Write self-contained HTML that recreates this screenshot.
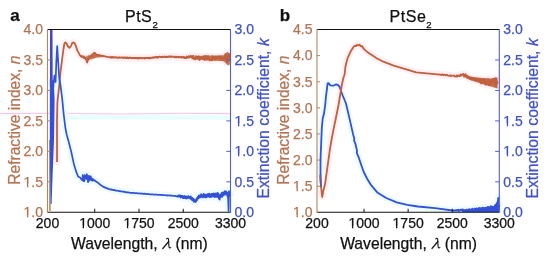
<!DOCTYPE html>
<html><head><meta charset="utf-8"><style>
html,body{margin:0;padding:0;background:#fff;width:550px;height:260px;overflow:hidden}
svg{display:block;filter:blur(0.3px);font-family:"Liberation Sans",sans-serif}
</style></head><body>
<svg width="550" height="260" viewBox="0 0 550 260" font-family="Liberation Sans, sans-serif">
<rect width="550" height="260" fill="#fff"/>
<path d="M0 113.6 L60 113.2 L120 114 L180 113.2 L230 113.6" stroke="#ffb4ea" stroke-width="1.1" fill="none" opacity="0.8"/>
<rect x="62" y="115.5" width="168" height="4" fill="#e6ffff"/>
<path d="M57.00 162.00 L57.00 120.00 L57.40 102.30 L59.30 85.00 L60.50 72.00 L62.00 60.00 L63.50 49.00 L64.30 44.00 L65.20 42.40 L66.50 43.50 L68.00 46.50 L69.50 47.80 L71.00 46.00 L72.20 43.00 L73.20 42.40 L74.20 42.80 L75.50 45.00 L77.30 50.40 L80.20 55.60 L83.70 57.30 L86.00 59.00 L87.10 62.50 L88.30 58.50 L90.00 57.30 L92.50 55.00 L94.60 52.70 L96.20 54.50 L98.00 55.00 L103.80 56.10 L109.60 57.30 L109.60 57.27 L110.00 57.21 L110.40 57.04 L110.80 57.63 L111.20 56.96 L111.60 57.37 L112.00 57.69 L112.40 57.05 L112.80 57.44 L113.20 57.51 L113.60 57.06 L114.00 57.34 L114.40 57.61 L114.80 57.43 L115.20 57.66 L115.60 57.21 L116.00 57.29 L116.40 57.20 L116.80 57.53 L117.20 57.88 L117.60 57.62 L118.00 57.78 L118.40 57.48 L118.80 57.79 L119.20 57.28 L119.60 57.45 L120.00 57.77 L120.40 57.82 L120.80 57.59 L121.20 57.34 L121.60 57.49 L122.00 57.46 L122.40 57.53 L122.80 57.96 L123.20 57.49 L123.60 58.05 L124.00 58.06 L124.40 57.41 L124.80 57.68 L125.20 57.78 L125.60 57.42 L126.00 57.76 L126.40 58.15 L126.80 57.53 L127.20 57.93 L127.60 57.56 L128.00 57.94 L128.40 58.21 L128.80 57.67 L129.20 57.52 L129.60 57.60 L130.00 57.97 L130.40 57.57 L130.80 57.64 L131.20 57.98 L131.60 58.33 L132.00 57.94 L132.40 57.94 L132.80 58.14 L133.20 57.72 L133.60 58.12 L134.00 57.81 L134.40 58.17 L134.80 58.46 L135.20 57.74 L135.60 58.14 L136.00 58.19 L136.40 57.82 L136.80 57.91 L137.20 58.50 L137.60 58.50 L138.00 57.80 L138.40 58.26 L138.80 58.46 L139.20 57.89 L139.60 58.19 L140.00 57.73 L140.40 57.99 L140.80 58.24 L141.20 58.17 L141.60 58.32 L142.00 57.77 L142.40 57.98 L142.80 58.39 L143.20 58.17 L143.60 58.06 L144.00 58.02 L144.40 58.49 L144.80 58.16 L145.20 57.71 L145.60 58.34 L146.00 57.96 L146.40 58.05 L146.80 57.87 L147.20 58.06 L147.60 57.96 L148.00 57.77 L148.40 58.20 L148.80 57.78 L149.20 58.33 L149.60 57.72 L150.00 58.32 L150.40 58.27 L150.80 57.95 L151.20 58.05 L151.60 57.61 L152.00 57.93 L152.40 57.61 L152.80 57.38 L153.20 57.91 L153.60 57.37 L154.00 57.27 L154.40 57.61 L154.80 57.13 L155.20 57.33 L155.60 56.90 L156.00 57.46 L156.40 56.95 L156.80 56.76 L157.20 57.53 L157.60 56.83 L158.00 57.48 L158.40 57.50 L158.80 57.16 L159.20 56.64 L159.60 56.67 L160.00 56.78 L160.40 56.92 L160.80 57.10 L161.20 57.40 L161.60 56.85 L162.00 56.65 L162.40 57.01 L162.80 56.62 L163.20 56.56 L163.60 56.96 L164.00 57.08 L164.40 56.50 L164.80 56.83 L165.20 57.04 L165.60 57.09 L166.00 56.73 L166.40 57.17 L166.80 56.50 L167.20 56.99 L167.60 57.03 L168.00 57.12 L168.40 56.75 L168.80 56.37 L169.20 56.31 L169.60 56.74 L170.00 56.40 L170.40 56.84 L170.80 56.34 L171.20 57.01 L171.60 56.50 L172.00 56.31 L172.40 56.48 L172.80 56.76 L173.20 56.88 L173.60 56.73 L174.00 56.54 L174.40 56.85 L174.80 57.31 L175.20 56.93 L175.60 57.34 L176.00 56.47 L176.40 57.42 L176.80 57.34 L177.20 57.01 L177.60 57.01 L178.00 57.04 L178.40 57.43 L178.80 56.63 L179.20 57.23 L179.60 57.16 L180.00 56.94 L180.40 57.41 L180.80 57.45 L181.20 56.75 L181.60 57.51 L182.00 57.22 L182.40 57.30 L182.80 57.55 L183.20 56.67 L183.60 57.57 L184.00 57.21 L184.40 58.14 L184.80 56.98 L185.20 58.11 L185.60 57.93 L186.00 57.70 L186.40 58.22 L186.80 56.36 L187.20 57.59 L187.60 57.61 L188.00 57.75 L188.40 57.06 L188.80 56.16 L189.20 56.42 L189.60 57.52 L190.00 56.31 L190.40 55.99 L190.80 56.84 L191.20 57.21 L191.60 57.44 L192.00 55.88 L192.40 58.27 L192.80 56.88 L193.20 58.39 L193.60 55.83 L194.00 59.08 L194.40 57.87 L194.80 59.28 L195.20 59.38 L195.60 58.88 L196.00 56.20 L196.40 57.13 L196.80 56.70 L197.20 58.88 L197.60 56.57 L198.00 56.70 L198.40 56.26 L198.80 56.31 L199.20 59.81 L199.60 60.03 L200.00 57.44 L200.40 59.07 L200.80 57.87 L201.20 58.11 L201.60 57.44 L202.00 58.63 L202.40 56.85 L202.80 56.95 L203.20 58.13 L203.60 56.68 L204.00 57.78 L204.40 60.08 L204.80 55.89 L205.20 56.26 L205.60 59.46 L206.00 56.05 L206.40 56.94 L206.80 59.72 L207.20 58.59 L207.60 56.81 L208.00 56.05 L208.40 57.07 L208.80 57.19 L209.20 59.54 L209.60 60.38 L210.00 59.50 L210.40 60.06 L210.80 60.20 L211.20 59.96 L211.60 60.18 L212.00 60.42 L212.40 56.22 L212.80 57.30 L213.20 56.96 L213.60 58.70 L214.00 58.16 L214.40 57.46 L214.80 59.86 L215.20 57.72 L215.60 56.79 L216.00 57.13 L216.40 58.05 L216.80 58.79 L217.20 58.59 L217.60 57.95 L218.00 56.69 L218.40 57.77 L218.80 57.39 L219.20 56.61 L219.60 58.50 L220.00 56.71 L220.40 59.37 L220.80 59.11 L221.20 56.45 L221.60 58.95 L222.00 57.48 L222.40 58.05 L222.80 58.88 L223.20 59.68 L223.60 60.33 L224.00 59.56 L224.40 56.57 L224.80 58.65 L225.20 57.03 L225.60 54.02 L226.00 58.90 L226.40 58.08 L226.80 62.20 L227.20 56.52 L227.60 62.00 L228.00 58.56 L228.40 53.93 L228.80 60.91 L229.20 55.95 L229.60 58.86 L230.00 53.34" stroke="#fff0f6" stroke-width="7" fill="none" stroke-linejoin="round" stroke-linecap="square"/>
<path d="M52.60 95.00 L54.40 75.50 L55.60 82.00 L56.30 62.00 L57.20 46.00 L58.20 62.00 L59.20 78.00 L60.60 86.00 L62.20 98.80 L63.70 114.40 L65.40 128.00 L66.80 135.00 L68.80 142.10 L71.40 152.50 L74.00 164.60 L76.30 171.90 L78.10 176.50 L80.40 177.70 L80.40 177.95 L80.80 178.40 L81.20 178.81 L81.60 179.71 L82.00 179.05 L82.40 180.34 L82.80 174.78 L83.20 177.69 L83.60 181.18 L84.00 179.10 L84.40 181.08 L84.80 175.11 L85.20 177.90 L85.60 176.15 L86.00 178.59 L86.40 178.90 L86.80 174.18 L87.20 175.92 L87.60 176.47 L88.00 182.22 L88.40 180.75 L88.80 175.91 L89.20 180.75 L89.60 176.27 L90.00 179.41 L90.40 176.74 L90.80 176.41 L91.20 180.50 L91.60 178.04 L92.00 178.37 L92.40 180.64 L92.80 180.36 L93.20 179.23 L93.60 180.53 L94.00 179.98 L94.40 180.32 L94.80 180.29 L95.20 180.94 L95.60 181.14 L96.00 181.56 L96.40 181.83 L96.80 181.90 L97.20 182.23 L97.60 182.45 L98.00 182.75 L98.40 183.02 L98.80 183.42 L99.20 183.87 L99.60 183.96 L100.00 184.55 L100.40 184.74 L100.80 185.06 L101.20 185.56 L101.60 185.68 L102.00 185.88 L102.40 186.20 L102.80 186.55 L103.20 186.52 L103.60 187.07 L104.00 186.88 L104.40 187.35 L104.80 187.58 L105.20 187.43 L105.60 187.93 L106.00 187.95 L106.40 188.16 L106.80 188.06 L107.20 188.20 L107.60 188.38 L108.00 188.82 L108.40 188.64 L108.80 188.99 L109.20 189.19 L109.60 189.32 L110.00 189.21 L110.40 189.34 L110.80 189.49 L111.20 189.67 L111.60 189.48 L112.00 189.82 L112.40 189.92 L112.80 190.02 L113.20 189.77 L113.60 190.22 L114.00 189.96 L114.40 190.14 L114.80 190.32 L115.20 190.53 L115.60 190.38 L116.00 190.69 L116.40 190.62 L116.80 190.60 L117.20 190.69 L117.60 190.71 L118.00 190.75 L118.40 190.86 L118.80 191.13 L119.20 191.32 L119.60 191.04 L120.00 191.05 L120.40 191.49 L120.80 191.37 L121.20 191.37 L121.60 191.36 L122.00 191.57 L122.40 191.72 L122.80 191.63 L123.20 191.67 L123.60 191.58 L124.00 191.99 L124.40 191.69 L124.80 191.94 L125.20 192.13 L125.60 191.91 L126.00 192.21 L126.40 192.35 L126.80 192.28 L127.20 192.40 L127.60 192.19 L128.00 192.38 L128.40 192.33 L128.80 192.66 L129.20 192.50 L129.60 192.62 L130.00 192.90 L130.40 192.87 L130.80 192.95 L131.20 192.77 L131.60 192.82 L132.00 192.94 L132.40 192.87 L132.80 192.83 L133.20 192.90 L133.60 192.83 L134.00 192.95 L134.40 193.23 L134.80 193.24 L135.20 193.14 L135.60 193.12 L136.00 193.09 L136.40 193.02 L136.80 193.12 L137.20 193.35 L137.60 193.42 L138.00 193.24 L138.40 193.44 L138.80 193.47 L139.20 193.47 L139.60 193.49 L140.00 193.55 L140.40 193.43 L140.80 193.59 L141.20 193.45 L141.60 193.56 L142.00 193.71 L142.40 193.71 L142.80 193.58 L143.20 193.87 L143.60 193.78 L144.00 193.78 L144.40 193.58 L144.80 193.83 L145.20 193.74 L145.60 193.94 L146.00 193.89 L146.40 194.06 L146.80 194.02 L147.20 194.11 L147.60 193.96 L148.00 194.11 L148.40 194.18 L148.80 194.24 L149.20 194.08 L149.60 194.31 L150.00 194.35 L150.40 194.30 L150.80 194.45 L151.20 194.47 L151.60 194.32 L152.00 194.35 L152.40 194.23 L152.80 194.53 L153.20 194.60 L153.60 194.44 L154.00 194.56 L154.40 194.60 L154.80 194.63 L155.20 194.43 L155.60 194.70 L156.00 194.65 L156.40 194.71 L156.80 194.64 L157.20 194.75 L157.60 194.84 L158.00 194.81 L158.40 194.88 L158.80 194.63 L159.20 194.71 L159.60 194.85 L160.00 194.96 L160.40 194.81 L160.80 195.03 L161.20 195.04 L161.60 194.83 L162.00 195.03 L162.40 194.96 L162.80 194.92 L163.20 194.98 L163.60 195.08 L164.00 195.05 L164.40 195.08 L164.80 195.05 L165.20 195.25 L165.60 195.24 L166.00 195.36 L166.40 195.38 L166.80 195.27 L167.20 195.56 L167.60 195.23 L168.00 195.42 L168.40 195.40 L168.80 195.48 L169.20 195.39 L169.60 195.70 L170.00 195.55 L170.40 195.44 L170.80 195.70 L171.20 195.52 L171.60 195.73 L172.00 195.67 L172.40 195.80 L172.80 195.98 L173.20 195.95 L173.60 195.82 L174.00 196.00 L174.40 195.96 L174.80 195.88 L175.20 195.82 L175.60 196.03 L176.00 196.04 L176.40 196.34 L176.80 196.49 L177.20 196.22 L177.60 195.93 L178.00 196.79 L178.40 195.27 L178.80 195.41 L179.20 196.42 L179.60 196.60 L180.00 195.35 L180.40 196.76 L180.80 197.54 L181.20 196.13 L181.60 196.33 L182.00 195.78 L182.40 196.01 L182.80 198.02 L183.20 196.35 L183.60 198.09 L184.00 198.00 L184.40 197.11 L184.80 196.16 L185.20 198.35 L185.60 196.95 L186.00 196.75 L186.40 196.50 L186.80 198.57 L187.20 197.12 L187.60 196.55 L188.00 197.18 L188.40 196.13 L188.80 197.73 L189.20 197.22 L189.60 196.80 L190.00 198.39 L190.40 198.75 L190.80 196.40 L191.20 198.26 L191.60 197.66 L192.00 200.00 L192.40 199.84 L192.80 198.44 L193.20 198.83 L193.60 198.79 L194.00 201.85 L194.40 199.90 L194.80 201.26 L195.20 201.15 L195.60 201.60 L196.00 200.89 L196.40 200.79 L196.80 198.11 L197.20 199.71 L197.60 197.57 L198.00 197.78 L198.40 196.52 L198.80 195.79 L199.20 196.24 L199.60 195.90 L200.00 195.42 L200.40 196.73 L200.80 196.16 L201.20 194.18 L201.60 194.91 L202.00 195.60 L202.40 197.22 L202.80 197.09 L203.20 195.84 L203.60 193.90 L204.00 196.63 L204.40 195.33 L204.80 195.84 L205.20 196.30 L205.60 195.99 L206.00 195.41 L206.40 196.98 L206.80 195.00 L207.20 194.99 L207.60 196.69 L208.00 194.20 L208.40 194.54 L208.80 196.53 L209.20 193.61 L209.60 196.51 L210.00 195.95 L210.40 194.93 L210.80 194.36 L211.20 196.26 L211.60 196.76 L212.00 193.76 L212.40 195.06 L212.80 195.33 L213.20 195.12 L213.60 194.45 L214.00 193.73 L214.40 195.44 L214.80 196.33 L215.20 193.34 L215.60 193.96 L216.00 196.40 L216.40 196.29 L216.80 195.75 L217.20 192.94 L217.60 196.02 L218.00 197.19 L218.40 197.30 L218.80 197.63 L219.20 196.79 L219.60 199.65 L220.00 194.62 L220.40 195.68 L220.80 197.13 L221.20 195.83 L221.60 192.74 L222.00 193.45 L222.40 196.67 L222.80 192.44 L223.20 194.84 L223.60 193.66 L224.00 192.12 L224.40 194.63 L224.80 191.19 L225.20 191.43 L225.60 192.91 L226.00 191.41 L226.40 191.84 L227.60 193.00 L228.20 200.00 L228.60 211.00 L229.00 191.00 L229.60 196.00 L230.30 195.00" stroke="#ecfcff" stroke-width="7" fill="none" stroke-linejoin="round" stroke-linecap="square"/>
<path d="M180.00 197.08 L180.40 196.36 L180.80 196.25 L181.20 197.26 L181.60 196.10 L182.00 196.76 L182.40 196.94 L182.80 197.08 L183.20 196.27 L183.60 197.20 L184.00 197.00 L184.40 197.71 L184.80 196.17 L185.20 198.02 L185.60 196.51 L186.00 197.83 L186.40 197.25 L186.80 197.98 L187.20 196.65 L187.60 196.98 L188.00 196.51 L188.40 198.05 L188.80 197.56 L189.20 196.86 L189.60 196.86 L190.00 196.64 L190.40 197.14 L190.80 198.22 L191.20 198.17 L191.60 199.05 L192.00 197.77 L192.40 199.97 L192.80 200.66 L193.20 200.39 L193.60 200.74 L194.00 201.35 L194.40 199.72 L194.80 201.00 L195.20 200.31 L195.60 202.07 L196.00 200.85 L196.40 199.09 L196.80 199.45 L197.20 199.80 L197.60 198.60 L198.00 196.78 L198.40 198.54 L198.80 195.40 L199.20 197.37 L199.60 197.69 L200.00 196.95 L200.40 197.53 L200.80 196.25 L201.20 195.26 L201.60 196.02 L202.00 196.83 L202.40 196.91 L202.80 195.66 L203.20 197.45 L203.60 194.47 L204.00 195.95 L204.40 194.41 L204.80 195.44 L205.20 197.54 L205.60 194.56 L206.00 197.51 L206.40 197.22 L206.80 196.45 L207.20 194.20 L207.60 195.64 L208.00 196.41 L208.40 194.23 L208.80 194.94 L209.20 194.15 L209.60 196.89 L210.00 197.15 L210.40 197.18 L210.80 196.53 L211.20 195.86 L211.60 193.88 L212.00 195.48 L212.40 196.56 L212.80 196.54 L213.20 193.65 L213.60 193.55 L214.00 193.85 L214.40 197.21 L214.80 193.91 L215.20 195.03 L215.60 195.37 L216.00 197.06 L216.40 193.92 L216.80 194.43 L217.20 196.59 L217.60 193.65 L218.00 193.96 L218.40 193.34 L218.80 198.75 L219.20 197.38 L219.60 197.81 L220.00 195.66 L220.40 197.52 L220.80 196.23 L221.20 195.64 L221.60 195.05 L222.00 193.94 L222.40 196.49 L222.80 192.98 L223.20 195.32 L223.60 193.69 L224.00 193.51 L224.40 194.26 L224.80 192.90 L225.20 194.75 L225.60 192.13 L226.00 191.90 L226.40 192.55 L226.80 192.35 L227.20 196.33" stroke="#ecfcff" stroke-width="7" fill="none" stroke-linejoin="round" stroke-linecap="square"/>
<path d="M321.00 187.00 L320.50 178.00 L320.50 165.00 L320.60 157.00 L321.20 143.00 L321.80 128.00 L322.70 118.40 L324.00 113.60 L325.20 105.00 L326.00 96.30 L327.00 88.60 L327.60 83.40 L328.50 83.20 L330.40 85.30 L333.30 85.70 L336.20 84.30 L338.10 85.10 L339.50 86.50 L341.00 91.00 L342.70 95.50 L346.00 103.50 L349.60 118.90 L353.00 133.90 L354.30 138.60 L354.10 140.60 L355.40 143.80 L357.00 150.80 L356.80 152.80 L358.80 157.70 L363.50 171.50 L367.00 178.50 L371.30 185.40 L377.70 192.80 L386.20 198.00 L396.70 202.30 L407.30 204.80 L417.90 206.50 L435.00 208.20 L452.50 210.50 L452.50 210.47 L452.90 210.53 L453.30 210.76 L453.70 210.44 L454.10 210.46 L454.50 210.51 L454.90 210.17 L455.30 210.43 L455.70 210.53 L456.10 210.67 L456.50 209.99 L456.90 210.17 L457.30 209.93 L457.70 210.69 L458.10 210.56 L458.50 209.79 L458.90 210.90 L459.30 210.89 L459.70 210.49 L460.10 210.44 L460.50 209.80 L460.90 209.58 L461.30 210.29 L461.70 209.58 L462.10 209.75 L462.50 209.81 L462.90 209.45 L463.30 210.13 L463.70 210.08 L464.10 210.76 L464.50 210.19 L464.90 210.40 L465.30 210.13 L465.70 210.42 L466.10 210.03 L466.50 209.68 L466.90 211.05 L467.30 211.05 L467.70 210.74 L468.10 210.47 L468.50 209.67 L468.90 209.47 L469.30 209.58 L469.70 209.10 L470.10 210.56 L470.50 209.74 L470.90 210.69 L471.30 209.64 L471.70 210.89 L472.10 210.62 L472.50 208.64 L472.90 209.08 L473.30 210.70 L473.70 209.62 L474.10 210.82 L474.50 209.37 L474.90 208.53 L475.30 209.88 L475.70 210.23 L476.10 208.90 L476.50 208.39 L476.90 208.99 L477.30 210.62 L477.70 210.05 L478.10 208.29 L478.50 208.60 L478.90 208.16 L479.30 208.00 L479.70 210.03 L480.10 208.24 L480.50 209.29 L480.90 208.94 L481.30 208.15 L481.70 209.71 L482.10 207.89 L482.50 209.37 L482.90 207.73 L483.30 208.60 L483.70 207.90 L484.10 208.02 L484.50 210.17 L484.90 209.60 L485.30 207.96 L485.70 209.78 L486.10 207.55 L486.50 208.09 L486.90 209.56 L487.30 208.81 L487.70 206.94 L488.10 209.90 L488.50 207.21 L488.90 207.31 L489.30 209.03 L489.70 207.44 L490.10 207.25 L490.50 206.34 L490.90 206.26 L491.30 207.91 L491.70 206.56 L492.10 207.74 L492.50 206.78 L492.90 206.96 L493.30 208.74 L493.70 206.84 L494.10 207.06 L494.50 208.06 L494.90 205.32 L495.30 205.08 L495.70 207.90 L496.10 206.82 L496.50 203.84 L496.90 202.86 L497.30 204.32 L498.30 198.00 L498.80 211.00 L499.30 205.00" stroke="#ecfcff" stroke-width="7" fill="none" stroke-linejoin="round" stroke-linecap="square"/>
<path d="M320.30 175.00 L320.70 182.00 L321.30 189.00 L321.80 194.00 L322.20 197.00 L323.20 191.40 L324.20 187.50 L325.20 183.00 L326.30 175.40 L327.60 166.00 L329.00 156.00 L329.80 150.00 L331.50 140.00 L333.50 129.50 L336.00 117.50 L338.50 105.00 L340.50 93.00 L342.00 84.00 L343.50 77.50 L344.60 74.50 L345.40 67.00 L346.50 62.00 L347.70 58.00 L350.80 51.20 L353.80 46.50 L355.00 45.80 L356.00 46.30 L357.00 44.80 L358.50 45.50 L359.50 44.60 L361.00 46.50 L362.00 46.00 L363.50 48.50 L365.40 50.40 L369.00 53.20 L373.00 55.80 L377.00 58.50 L381.50 60.80 L393.00 65.40 L404.60 68.90 L416.20 72.30 L440.00 74.60 L440.00 74.41 L440.40 74.79 L440.80 74.82 L441.20 75.00 L441.60 74.48 L442.00 74.55 L442.40 74.51 L442.80 74.61 L443.20 75.09 L443.60 74.59 L444.00 74.98 L444.40 74.73 L444.80 74.84 L445.20 75.00 L445.60 75.42 L446.00 75.24 L446.40 74.70 L446.80 74.98 L447.20 74.89 L447.60 75.65 L448.00 75.62 L448.40 75.66 L448.80 75.72 L449.20 75.67 L449.60 75.93 L450.00 75.80 L450.40 75.26 L450.80 75.94 L451.20 75.58 L451.60 75.91 L452.00 75.74 L452.40 75.62 L452.80 75.58 L453.20 75.69 L453.60 75.59 L454.00 75.40 L454.40 76.26 L454.80 76.27 L455.20 76.57 L455.60 76.26 L456.00 76.11 L456.40 76.48 L456.80 75.43 L457.20 76.47 L457.60 76.05 L458.00 75.48 L458.40 75.42 L458.80 76.11 L459.20 75.33 L459.60 75.80 L460.00 76.14 L460.40 75.45 L460.80 74.51 L461.20 75.59 L461.60 74.63 L462.00 74.52 L462.40 74.32 L462.80 74.87 L463.20 73.82 L463.60 75.68 L464.00 76.56 L464.40 74.69 L464.80 75.78 L465.20 76.61 L465.60 74.24 L466.00 74.77 L466.40 76.83 L466.80 77.11 L467.20 76.80 L467.60 75.82 L468.00 76.68 L468.40 77.97 L468.80 78.20 L469.20 78.21 L469.60 77.16 L470.00 78.71 L470.40 77.87 L470.80 78.72 L471.20 77.57 L471.60 79.60 L472.00 78.88 L472.40 79.32 L472.80 78.15 L473.20 79.33 L473.60 79.37 L474.00 79.53 L474.40 78.99 L474.80 80.20 L475.20 79.17 L475.60 79.14 L476.00 78.84 L476.40 80.64 L476.80 78.86 L477.20 79.35 L477.60 78.90 L478.00 81.06 L478.40 80.88 L478.80 80.96 L479.20 79.16 L479.60 80.82 L480.00 80.55 L480.40 79.62 L480.80 79.31 L481.20 83.72 L481.60 79.84 L482.00 80.68 L482.40 80.54 L482.80 82.19 L483.20 79.58 L483.60 81.63 L484.00 81.11 L484.40 83.74 L484.80 79.11 L485.20 81.00 L485.60 81.99 L486.00 84.93 L486.40 82.20 L486.80 81.98 L487.20 83.30 L487.60 80.87 L488.00 79.08 L488.40 82.33 L488.80 85.28 L489.20 84.14 L489.60 80.67 L490.00 83.89 L490.40 85.20 L490.80 80.67 L491.20 83.28 L491.60 81.44 L492.00 80.53 L492.40 80.88 L492.80 80.16 L493.20 81.42 L493.60 78.68 L494.00 81.85 L494.40 79.04 L494.80 85.20 L495.20 83.78 L495.60 78.16 L496.00 85.54 L496.40 79.90 L496.80 82.76 L497.20 83.53 L497.60 81.33" stroke="#fff0f6" stroke-width="7" fill="none" stroke-linejoin="round" stroke-linecap="square"/>
<path d="M320.5 174 L320.9 187" stroke="#ecfcff" stroke-width="7" fill="none" stroke-linejoin="round" stroke-linecap="square"/>
<path d="M49.9 140 L49.9 211" stroke="#a88a50" stroke-width="1.5" fill="none"/>
<path d="M196 56 L205 55.6 L215 55.6 L223.5 55.3 L225.5 53 L228 52 L229.8 54 L229.8 64.5 L228 65.6 L225.5 63 L223.5 61.2 L215 60.8 L205 60.2 L196 59 Z" fill="#c0603c" opacity="0.85"/>
<path d="M57.00 162.00 L57.00 120.00 L57.40 102.30 L59.30 85.00 L60.50 72.00 L62.00 60.00 L63.50 49.00 L64.30 44.00 L65.20 42.40 L66.50 43.50 L68.00 46.50 L69.50 47.80 L71.00 46.00 L72.20 43.00 L73.20 42.40 L74.20 42.80 L75.50 45.00 L77.30 50.40 L80.20 55.60 L83.70 57.30 L86.00 59.00 L87.10 62.50 L88.30 58.50 L90.00 57.30 L92.50 55.00 L94.60 52.70 L96.20 54.50 L98.00 55.00 L103.80 56.10 L109.60 57.30 L109.60 57.27 L110.00 57.21 L110.40 57.04 L110.80 57.63 L111.20 56.96 L111.60 57.37 L112.00 57.69 L112.40 57.05 L112.80 57.44 L113.20 57.51 L113.60 57.06 L114.00 57.34 L114.40 57.61 L114.80 57.43 L115.20 57.66 L115.60 57.21 L116.00 57.29 L116.40 57.20 L116.80 57.53 L117.20 57.88 L117.60 57.62 L118.00 57.78 L118.40 57.48 L118.80 57.79 L119.20 57.28 L119.60 57.45 L120.00 57.77 L120.40 57.82 L120.80 57.59 L121.20 57.34 L121.60 57.49 L122.00 57.46 L122.40 57.53 L122.80 57.96 L123.20 57.49 L123.60 58.05 L124.00 58.06 L124.40 57.41 L124.80 57.68 L125.20 57.78 L125.60 57.42 L126.00 57.76 L126.40 58.15 L126.80 57.53 L127.20 57.93 L127.60 57.56 L128.00 57.94 L128.40 58.21 L128.80 57.67 L129.20 57.52 L129.60 57.60 L130.00 57.97 L130.40 57.57 L130.80 57.64 L131.20 57.98 L131.60 58.33 L132.00 57.94 L132.40 57.94 L132.80 58.14 L133.20 57.72 L133.60 58.12 L134.00 57.81 L134.40 58.17 L134.80 58.46 L135.20 57.74 L135.60 58.14 L136.00 58.19 L136.40 57.82 L136.80 57.91 L137.20 58.50 L137.60 58.50 L138.00 57.80 L138.40 58.26 L138.80 58.46 L139.20 57.89 L139.60 58.19 L140.00 57.73 L140.40 57.99 L140.80 58.24 L141.20 58.17 L141.60 58.32 L142.00 57.77 L142.40 57.98 L142.80 58.39 L143.20 58.17 L143.60 58.06 L144.00 58.02 L144.40 58.49 L144.80 58.16 L145.20 57.71 L145.60 58.34 L146.00 57.96 L146.40 58.05 L146.80 57.87 L147.20 58.06 L147.60 57.96 L148.00 57.77 L148.40 58.20 L148.80 57.78 L149.20 58.33 L149.60 57.72 L150.00 58.32 L150.40 58.27 L150.80 57.95 L151.20 58.05 L151.60 57.61 L152.00 57.93 L152.40 57.61 L152.80 57.38 L153.20 57.91 L153.60 57.37 L154.00 57.27 L154.40 57.61 L154.80 57.13 L155.20 57.33 L155.60 56.90 L156.00 57.46 L156.40 56.95 L156.80 56.76 L157.20 57.53 L157.60 56.83 L158.00 57.48 L158.40 57.50 L158.80 57.16 L159.20 56.64 L159.60 56.67 L160.00 56.78 L160.40 56.92 L160.80 57.10 L161.20 57.40 L161.60 56.85 L162.00 56.65 L162.40 57.01 L162.80 56.62 L163.20 56.56 L163.60 56.96 L164.00 57.08 L164.40 56.50 L164.80 56.83 L165.20 57.04 L165.60 57.09 L166.00 56.73 L166.40 57.17 L166.80 56.50 L167.20 56.99 L167.60 57.03 L168.00 57.12 L168.40 56.75 L168.80 56.37 L169.20 56.31 L169.60 56.74 L170.00 56.40 L170.40 56.84 L170.80 56.34 L171.20 57.01 L171.60 56.50 L172.00 56.31 L172.40 56.48 L172.80 56.76 L173.20 56.88 L173.60 56.73 L174.00 56.54 L174.40 56.85 L174.80 57.31 L175.20 56.93 L175.60 57.34 L176.00 56.47 L176.40 57.42 L176.80 57.34 L177.20 57.01 L177.60 57.01 L178.00 57.04 L178.40 57.43 L178.80 56.63 L179.20 57.23 L179.60 57.16 L180.00 56.94 L180.40 57.41 L180.80 57.45 L181.20 56.75 L181.60 57.51 L182.00 57.22 L182.40 57.30 L182.80 57.55 L183.20 56.67 L183.60 57.57 L184.00 57.21 L184.40 58.14 L184.80 56.98 L185.20 58.11 L185.60 57.93 L186.00 57.70 L186.40 58.22 L186.80 56.36 L187.20 57.59 L187.60 57.61 L188.00 57.75 L188.40 57.06 L188.80 56.16 L189.20 56.42 L189.60 57.52 L190.00 56.31 L190.40 55.99 L190.80 56.84 L191.20 57.21 L191.60 57.44 L192.00 55.88 L192.40 58.27 L192.80 56.88 L193.20 58.39 L193.60 55.83 L194.00 59.08 L194.40 57.87 L194.80 59.28 L195.20 59.38 L195.60 58.88 L196.00 56.20 L196.40 57.13 L196.80 56.70 L197.20 58.88 L197.60 56.57 L198.00 56.70 L198.40 56.26 L198.80 56.31 L199.20 59.81 L199.60 60.03 L200.00 57.44 L200.40 59.07 L200.80 57.87 L201.20 58.11 L201.60 57.44 L202.00 58.63 L202.40 56.85 L202.80 56.95 L203.20 58.13 L203.60 56.68 L204.00 57.78 L204.40 60.08 L204.80 55.89 L205.20 56.26 L205.60 59.46 L206.00 56.05 L206.40 56.94 L206.80 59.72 L207.20 58.59 L207.60 56.81 L208.00 56.05 L208.40 57.07 L208.80 57.19 L209.20 59.54 L209.60 60.38 L210.00 59.50 L210.40 60.06 L210.80 60.20 L211.20 59.96 L211.60 60.18 L212.00 60.42 L212.40 56.22 L212.80 57.30 L213.20 56.96 L213.60 58.70 L214.00 58.16 L214.40 57.46 L214.80 59.86 L215.20 57.72 L215.60 56.79 L216.00 57.13 L216.40 58.05 L216.80 58.79 L217.20 58.59 L217.60 57.95 L218.00 56.69 L218.40 57.77 L218.80 57.39 L219.20 56.61 L219.60 58.50 L220.00 56.71 L220.40 59.37 L220.80 59.11 L221.20 56.45 L221.60 58.95 L222.00 57.48 L222.40 58.05 L222.80 58.88 L223.20 59.68 L223.60 60.33 L224.00 59.56 L224.40 56.57 L224.80 58.65 L225.20 57.03 L225.60 54.02 L226.00 58.90 L226.40 58.08 L226.80 62.20 L227.20 56.52 L227.60 62.00 L228.00 58.56 L228.40 53.93 L228.80 60.91 L229.20 55.95 L229.60 58.86 L230.00 53.34" stroke="#c0603c" stroke-width="1.8" fill="none" stroke-linejoin="round"/>
<path d="M80 55.2 L83 56 L85 56.5 L86.5 57.3 L88 56 L90 55 L92 53.6 L94.5 52.2 L96 53.5 L98 54.5 L100 55 L104 55.6 L104 57.2 L100 57.3 L98 57.5 L96 57.8 L94 58.5 L92 59.2 L90 59.4 L88.6 60.4 L87.2 63 L86 60 L84 59 L82 58 L80 57 Z" fill="#c0603c" opacity="0.85"/>
<path d="M82.00 56.16 L82.50 55.70 L83.00 56.59 L83.50 55.81 L84.00 55.50 L84.50 56.49 L85.00 58.00 L85.50 57.60 L86.00 57.44 L86.50 55.82 L87.00 56.69 L87.50 55.91 L88.00 55.58 L88.50 55.37 L89.00 55.64 L89.50 57.53 L90.00 57.21 L90.50 57.10 L91.00 57.03 L91.50 55.42 L92.00 55.68 L92.50 56.44 L93.00 56.66 L93.50 56.90 L94.00 56.91 L94.50 54.98 L95.00 56.16 L95.50 56.27 L96.00 55.85 L96.50 55.07 L97.00 55.69 L97.50 54.82 L98.00 56.59 L98.50 56.39 L99.00 55.68 L99.50 55.14 L100.00 56.32" stroke="#c0603c" stroke-width="1.0" fill="none" opacity="0.6"/>
<path d="M50.0 29.5 L49.9 86 L52.7 86 L52.5 29.5 Z" fill="#4844c8"/>
<path d="M49.9 80 L49.8 140 L50.2 175 L50.6 204 L51.6 204 L52.6 175 L54.0 140 L54.6 100 L54.0 86 L52.7 80 Z" fill="#3450d8"/>
<path d="M52.60 95.00 L54.40 75.50 L55.60 82.00 L56.30 62.00 L57.20 46.00 L58.20 62.00 L59.20 78.00 L60.60 86.00 L62.20 98.80 L63.70 114.40 L65.40 128.00 L66.80 135.00 L68.80 142.10 L71.40 152.50 L74.00 164.60 L76.30 171.90 L78.10 176.50 L80.40 177.70 L80.40 177.95 L80.80 178.40 L81.20 178.81 L81.60 179.71 L82.00 179.05 L82.40 180.34 L82.80 174.78 L83.20 177.69 L83.60 181.18 L84.00 179.10 L84.40 181.08 L84.80 175.11 L85.20 177.90 L85.60 176.15 L86.00 178.59 L86.40 178.90 L86.80 174.18 L87.20 175.92 L87.60 176.47 L88.00 182.22 L88.40 180.75 L88.80 175.91 L89.20 180.75 L89.60 176.27 L90.00 179.41 L90.40 176.74 L90.80 176.41 L91.20 180.50 L91.60 178.04 L92.00 178.37 L92.40 180.64 L92.80 180.36 L93.20 179.23 L93.60 180.53 L94.00 179.98 L94.40 180.32 L94.80 180.29 L95.20 180.94 L95.60 181.14 L96.00 181.56 L96.40 181.83 L96.80 181.90 L97.20 182.23 L97.60 182.45 L98.00 182.75 L98.40 183.02 L98.80 183.42 L99.20 183.87 L99.60 183.96 L100.00 184.55 L100.40 184.74 L100.80 185.06 L101.20 185.56 L101.60 185.68 L102.00 185.88 L102.40 186.20 L102.80 186.55 L103.20 186.52 L103.60 187.07 L104.00 186.88 L104.40 187.35 L104.80 187.58 L105.20 187.43 L105.60 187.93 L106.00 187.95 L106.40 188.16 L106.80 188.06 L107.20 188.20 L107.60 188.38 L108.00 188.82 L108.40 188.64 L108.80 188.99 L109.20 189.19 L109.60 189.32 L110.00 189.21 L110.40 189.34 L110.80 189.49 L111.20 189.67 L111.60 189.48 L112.00 189.82 L112.40 189.92 L112.80 190.02 L113.20 189.77 L113.60 190.22 L114.00 189.96 L114.40 190.14 L114.80 190.32 L115.20 190.53 L115.60 190.38 L116.00 190.69 L116.40 190.62 L116.80 190.60 L117.20 190.69 L117.60 190.71 L118.00 190.75 L118.40 190.86 L118.80 191.13 L119.20 191.32 L119.60 191.04 L120.00 191.05 L120.40 191.49 L120.80 191.37 L121.20 191.37 L121.60 191.36 L122.00 191.57 L122.40 191.72 L122.80 191.63 L123.20 191.67 L123.60 191.58 L124.00 191.99 L124.40 191.69 L124.80 191.94 L125.20 192.13 L125.60 191.91 L126.00 192.21 L126.40 192.35 L126.80 192.28 L127.20 192.40 L127.60 192.19 L128.00 192.38 L128.40 192.33 L128.80 192.66 L129.20 192.50 L129.60 192.62 L130.00 192.90 L130.40 192.87 L130.80 192.95 L131.20 192.77 L131.60 192.82 L132.00 192.94 L132.40 192.87 L132.80 192.83 L133.20 192.90 L133.60 192.83 L134.00 192.95 L134.40 193.23 L134.80 193.24 L135.20 193.14 L135.60 193.12 L136.00 193.09 L136.40 193.02 L136.80 193.12 L137.20 193.35 L137.60 193.42 L138.00 193.24 L138.40 193.44 L138.80 193.47 L139.20 193.47 L139.60 193.49 L140.00 193.55 L140.40 193.43 L140.80 193.59 L141.20 193.45 L141.60 193.56 L142.00 193.71 L142.40 193.71 L142.80 193.58 L143.20 193.87 L143.60 193.78 L144.00 193.78 L144.40 193.58 L144.80 193.83 L145.20 193.74 L145.60 193.94 L146.00 193.89 L146.40 194.06 L146.80 194.02 L147.20 194.11 L147.60 193.96 L148.00 194.11 L148.40 194.18 L148.80 194.24 L149.20 194.08 L149.60 194.31 L150.00 194.35 L150.40 194.30 L150.80 194.45 L151.20 194.47 L151.60 194.32 L152.00 194.35 L152.40 194.23 L152.80 194.53 L153.20 194.60 L153.60 194.44 L154.00 194.56 L154.40 194.60 L154.80 194.63 L155.20 194.43 L155.60 194.70 L156.00 194.65 L156.40 194.71 L156.80 194.64 L157.20 194.75 L157.60 194.84 L158.00 194.81 L158.40 194.88 L158.80 194.63 L159.20 194.71 L159.60 194.85 L160.00 194.96 L160.40 194.81 L160.80 195.03 L161.20 195.04 L161.60 194.83 L162.00 195.03 L162.40 194.96 L162.80 194.92 L163.20 194.98 L163.60 195.08 L164.00 195.05 L164.40 195.08 L164.80 195.05 L165.20 195.25 L165.60 195.24 L166.00 195.36 L166.40 195.38 L166.80 195.27 L167.20 195.56 L167.60 195.23 L168.00 195.42 L168.40 195.40 L168.80 195.48 L169.20 195.39 L169.60 195.70 L170.00 195.55 L170.40 195.44 L170.80 195.70 L171.20 195.52 L171.60 195.73 L172.00 195.67 L172.40 195.80 L172.80 195.98 L173.20 195.95 L173.60 195.82 L174.00 196.00 L174.40 195.96 L174.80 195.88 L175.20 195.82 L175.60 196.03 L176.00 196.04 L176.40 196.34 L176.80 196.49 L177.20 196.22 L177.60 195.93 L178.00 196.79 L178.40 195.27 L178.80 195.41 L179.20 196.42 L179.60 196.60 L180.00 195.35 L180.40 196.76 L180.80 197.54 L181.20 196.13 L181.60 196.33 L182.00 195.78 L182.40 196.01 L182.80 198.02 L183.20 196.35 L183.60 198.09 L184.00 198.00 L184.40 197.11 L184.80 196.16 L185.20 198.35 L185.60 196.95 L186.00 196.75 L186.40 196.50 L186.80 198.57 L187.20 197.12 L187.60 196.55 L188.00 197.18 L188.40 196.13 L188.80 197.73 L189.20 197.22 L189.60 196.80 L190.00 198.39 L190.40 198.75 L190.80 196.40 L191.20 198.26 L191.60 197.66 L192.00 200.00 L192.40 199.84 L192.80 198.44 L193.20 198.83 L193.60 198.79 L194.00 201.85 L194.40 199.90 L194.80 201.26 L195.20 201.15 L195.60 201.60 L196.00 200.89 L196.40 200.79 L196.80 198.11 L197.20 199.71 L197.60 197.57 L198.00 197.78 L198.40 196.52 L198.80 195.79 L199.20 196.24 L199.60 195.90 L200.00 195.42 L200.40 196.73 L200.80 196.16 L201.20 194.18 L201.60 194.91 L202.00 195.60 L202.40 197.22 L202.80 197.09 L203.20 195.84 L203.60 193.90 L204.00 196.63 L204.40 195.33 L204.80 195.84 L205.20 196.30 L205.60 195.99 L206.00 195.41 L206.40 196.98 L206.80 195.00 L207.20 194.99 L207.60 196.69 L208.00 194.20 L208.40 194.54 L208.80 196.53 L209.20 193.61 L209.60 196.51 L210.00 195.95 L210.40 194.93 L210.80 194.36 L211.20 196.26 L211.60 196.76 L212.00 193.76 L212.40 195.06 L212.80 195.33 L213.20 195.12 L213.60 194.45 L214.00 193.73 L214.40 195.44 L214.80 196.33 L215.20 193.34 L215.60 193.96 L216.00 196.40 L216.40 196.29 L216.80 195.75 L217.20 192.94 L217.60 196.02 L218.00 197.19 L218.40 197.30 L218.80 197.63 L219.20 196.79 L219.60 199.65 L220.00 194.62 L220.40 195.68 L220.80 197.13 L221.20 195.83 L221.60 192.74 L222.00 193.45 L222.40 196.67 L222.80 192.44 L223.20 194.84 L223.60 193.66 L224.00 192.12 L224.40 194.63 L224.80 191.19 L225.20 191.43 L225.60 192.91 L226.00 191.41 L226.40 191.84 L227.60 193.00 L228.20 200.00 L228.60 211.00 L229.00 191.00 L229.60 196.00 L230.30 195.00" stroke="#3450d8" stroke-width="1.7" fill="none" stroke-linejoin="round"/>
<path d="M180.00 197.08 L180.40 196.36 L180.80 196.25 L181.20 197.26 L181.60 196.10 L182.00 196.76 L182.40 196.94 L182.80 197.08 L183.20 196.27 L183.60 197.20 L184.00 197.00 L184.40 197.71 L184.80 196.17 L185.20 198.02 L185.60 196.51 L186.00 197.83 L186.40 197.25 L186.80 197.98 L187.20 196.65 L187.60 196.98 L188.00 196.51 L188.40 198.05 L188.80 197.56 L189.20 196.86 L189.60 196.86 L190.00 196.64 L190.40 197.14 L190.80 198.22 L191.20 198.17 L191.60 199.05 L192.00 197.77 L192.40 199.97 L192.80 200.66 L193.20 200.39 L193.60 200.74 L194.00 201.35 L194.40 199.72 L194.80 201.00 L195.20 200.31 L195.60 202.07 L196.00 200.85 L196.40 199.09 L196.80 199.45 L197.20 199.80 L197.60 198.60 L198.00 196.78 L198.40 198.54 L198.80 195.40 L199.20 197.37 L199.60 197.69 L200.00 196.95 L200.40 197.53 L200.80 196.25 L201.20 195.26 L201.60 196.02 L202.00 196.83 L202.40 196.91 L202.80 195.66 L203.20 197.45 L203.60 194.47 L204.00 195.95 L204.40 194.41 L204.80 195.44 L205.20 197.54 L205.60 194.56 L206.00 197.51 L206.40 197.22 L206.80 196.45 L207.20 194.20 L207.60 195.64 L208.00 196.41 L208.40 194.23 L208.80 194.94 L209.20 194.15 L209.60 196.89 L210.00 197.15 L210.40 197.18 L210.80 196.53 L211.20 195.86 L211.60 193.88 L212.00 195.48 L212.40 196.56 L212.80 196.54 L213.20 193.65 L213.60 193.55 L214.00 193.85 L214.40 197.21 L214.80 193.91 L215.20 195.03 L215.60 195.37 L216.00 197.06 L216.40 193.92 L216.80 194.43 L217.20 196.59 L217.60 193.65 L218.00 193.96 L218.40 193.34 L218.80 198.75 L219.20 197.38 L219.60 197.81 L220.00 195.66 L220.40 197.52 L220.80 196.23 L221.20 195.64 L221.60 195.05 L222.00 193.94 L222.40 196.49 L222.80 192.98 L223.20 195.32 L223.60 193.69 L224.00 193.51 L224.40 194.26 L224.80 192.90 L225.20 194.75 L225.60 192.13 L226.00 191.90 L226.40 192.55 L226.80 192.35 L227.20 196.33" stroke="#3450d8" stroke-width="1.6" fill="none" stroke-linejoin="round"/>
<path d="M462 212 L462.00 209.21 L462.60 210.16 L463.20 210.01 L463.80 209.67 L464.40 209.13 L465.00 210.18 L465.60 210.16 L466.20 209.55 L466.80 209.49 L467.40 208.93 L468.00 208.44 L468.60 209.10 L469.20 209.46 L469.80 208.43 L470.40 209.76 L471.00 208.65 L471.60 208.60 L472.20 208.20 L472.80 209.96 L473.40 209.43 L474.00 209.64 L474.60 209.10 L475.20 207.95 L475.80 208.48 L476.40 208.76 L477.00 208.00 L477.60 209.55 L478.20 208.41 L478.80 207.97 L479.40 209.19 L480.00 207.84 L480.60 209.33 L481.20 208.39 L481.80 208.54 L482.40 208.11 L483.00 208.34 L483.60 207.74 L484.20 207.42 L484.80 208.96 L485.40 207.69 L486.00 208.64 L486.60 207.47 L487.20 208.83 L487.80 208.60 L488.40 208.25 L489.00 208.18 L489.60 207.75 L490.20 207.94 L490.80 206.70 L491.40 207.29 L492.00 207.87 L492.60 206.44 L493.20 207.57 L493.80 207.27 L494.40 206.12 L495.00 205.79 L495.60 205.72 L496.20 205.03 L496.80 204.99 L497.40 202.63 L498.00 199.75 L498.8 212 Z" fill="#3450d8"/>
<path d="M321.00 187.00 L320.50 178.00 L320.50 165.00 L320.60 157.00 L321.20 143.00 L321.80 128.00 L322.70 118.40 L324.00 113.60 L325.20 105.00 L326.00 96.30 L327.00 88.60 L327.60 83.40 L328.50 83.20 L330.40 85.30 L333.30 85.70 L336.20 84.30 L338.10 85.10 L339.50 86.50 L341.00 91.00 L342.70 95.50 L346.00 103.50 L349.60 118.90 L353.00 133.90 L354.30 138.60 L354.10 140.60 L355.40 143.80 L357.00 150.80 L356.80 152.80 L358.80 157.70 L363.50 171.50 L367.00 178.50 L371.30 185.40 L377.70 192.80 L386.20 198.00 L396.70 202.30 L407.30 204.80 L417.90 206.50 L435.00 208.20 L452.50 210.50 L452.50 210.47 L452.90 210.53 L453.30 210.76 L453.70 210.44 L454.10 210.46 L454.50 210.51 L454.90 210.17 L455.30 210.43 L455.70 210.53 L456.10 210.67 L456.50 209.99 L456.90 210.17 L457.30 209.93 L457.70 210.69 L458.10 210.56 L458.50 209.79 L458.90 210.90 L459.30 210.89 L459.70 210.49 L460.10 210.44 L460.50 209.80 L460.90 209.58 L461.30 210.29 L461.70 209.58 L462.10 209.75 L462.50 209.81 L462.90 209.45 L463.30 210.13 L463.70 210.08 L464.10 210.76 L464.50 210.19 L464.90 210.40 L465.30 210.13 L465.70 210.42 L466.10 210.03 L466.50 209.68 L466.90 211.05 L467.30 211.05 L467.70 210.74 L468.10 210.47 L468.50 209.67 L468.90 209.47 L469.30 209.58 L469.70 209.10 L470.10 210.56 L470.50 209.74 L470.90 210.69 L471.30 209.64 L471.70 210.89 L472.10 210.62 L472.50 208.64 L472.90 209.08 L473.30 210.70 L473.70 209.62 L474.10 210.82 L474.50 209.37 L474.90 208.53 L475.30 209.88 L475.70 210.23 L476.10 208.90 L476.50 208.39 L476.90 208.99 L477.30 210.62 L477.70 210.05 L478.10 208.29 L478.50 208.60 L478.90 208.16 L479.30 208.00 L479.70 210.03 L480.10 208.24 L480.50 209.29 L480.90 208.94 L481.30 208.15 L481.70 209.71 L482.10 207.89 L482.50 209.37 L482.90 207.73 L483.30 208.60 L483.70 207.90 L484.10 208.02 L484.50 210.17 L484.90 209.60 L485.30 207.96 L485.70 209.78 L486.10 207.55 L486.50 208.09 L486.90 209.56 L487.30 208.81 L487.70 206.94 L488.10 209.90 L488.50 207.21 L488.90 207.31 L489.30 209.03 L489.70 207.44 L490.10 207.25 L490.50 206.34 L490.90 206.26 L491.30 207.91 L491.70 206.56 L492.10 207.74 L492.50 206.78 L492.90 206.96 L493.30 208.74 L493.70 206.84 L494.10 207.06 L494.50 208.06 L494.90 205.32 L495.30 205.08 L495.70 207.90 L496.10 206.82 L496.50 203.84 L496.90 202.86 L497.30 204.32 L498.30 198.00 L498.80 211.00 L499.30 205.00" stroke="#3450d8" stroke-width="1.8" fill="none" stroke-linejoin="round"/>
<path d="M466 75.8 L470 76.6 L480 77.8 L490 78.6 L497.6 77.6 L497.6 88.6 L490 86.2 L480 83.2 L470 80 L466 78.2 Z" fill="#c0603c" opacity="0.9"/>
<path d="M320.30 175.00 L320.70 182.00 L321.30 189.00 L321.80 194.00 L322.20 197.00 L323.20 191.40 L324.20 187.50 L325.20 183.00 L326.30 175.40 L327.60 166.00 L329.00 156.00 L329.80 150.00 L331.50 140.00 L333.50 129.50 L336.00 117.50 L338.50 105.00 L340.50 93.00 L342.00 84.00 L343.50 77.50 L344.60 74.50 L345.40 67.00 L346.50 62.00 L347.70 58.00 L350.80 51.20 L353.80 46.50 L355.00 45.80 L356.00 46.30 L357.00 44.80 L358.50 45.50 L359.50 44.60 L361.00 46.50 L362.00 46.00 L363.50 48.50 L365.40 50.40 L369.00 53.20 L373.00 55.80 L377.00 58.50 L381.50 60.80 L393.00 65.40 L404.60 68.90 L416.20 72.30 L440.00 74.60 L440.00 74.41 L440.40 74.79 L440.80 74.82 L441.20 75.00 L441.60 74.48 L442.00 74.55 L442.40 74.51 L442.80 74.61 L443.20 75.09 L443.60 74.59 L444.00 74.98 L444.40 74.73 L444.80 74.84 L445.20 75.00 L445.60 75.42 L446.00 75.24 L446.40 74.70 L446.80 74.98 L447.20 74.89 L447.60 75.65 L448.00 75.62 L448.40 75.66 L448.80 75.72 L449.20 75.67 L449.60 75.93 L450.00 75.80 L450.40 75.26 L450.80 75.94 L451.20 75.58 L451.60 75.91 L452.00 75.74 L452.40 75.62 L452.80 75.58 L453.20 75.69 L453.60 75.59 L454.00 75.40 L454.40 76.26 L454.80 76.27 L455.20 76.57 L455.60 76.26 L456.00 76.11 L456.40 76.48 L456.80 75.43 L457.20 76.47 L457.60 76.05 L458.00 75.48 L458.40 75.42 L458.80 76.11 L459.20 75.33 L459.60 75.80 L460.00 76.14 L460.40 75.45 L460.80 74.51 L461.20 75.59 L461.60 74.63 L462.00 74.52 L462.40 74.32 L462.80 74.87 L463.20 73.82 L463.60 75.68 L464.00 76.56 L464.40 74.69 L464.80 75.78 L465.20 76.61 L465.60 74.24 L466.00 74.77 L466.40 76.83 L466.80 77.11 L467.20 76.80 L467.60 75.82 L468.00 76.68 L468.40 77.97 L468.80 78.20 L469.20 78.21 L469.60 77.16 L470.00 78.71 L470.40 77.87 L470.80 78.72 L471.20 77.57 L471.60 79.60 L472.00 78.88 L472.40 79.32 L472.80 78.15 L473.20 79.33 L473.60 79.37 L474.00 79.53 L474.40 78.99 L474.80 80.20 L475.20 79.17 L475.60 79.14 L476.00 78.84 L476.40 80.64 L476.80 78.86 L477.20 79.35 L477.60 78.90 L478.00 81.06 L478.40 80.88 L478.80 80.96 L479.20 79.16 L479.60 80.82 L480.00 80.55 L480.40 79.62 L480.80 79.31 L481.20 83.72 L481.60 79.84 L482.00 80.68 L482.40 80.54 L482.80 82.19 L483.20 79.58 L483.60 81.63 L484.00 81.11 L484.40 83.74 L484.80 79.11 L485.20 81.00 L485.60 81.99 L486.00 84.93 L486.40 82.20 L486.80 81.98 L487.20 83.30 L487.60 80.87 L488.00 79.08 L488.40 82.33 L488.80 85.28 L489.20 84.14 L489.60 80.67 L490.00 83.89 L490.40 85.20 L490.80 80.67 L491.20 83.28 L491.60 81.44 L492.00 80.53 L492.40 80.88 L492.80 80.16 L493.20 81.42 L493.60 78.68 L494.00 81.85 L494.40 79.04 L494.80 85.20 L495.20 83.78 L495.60 78.16 L496.00 85.54 L496.40 79.90 L496.80 82.76 L497.20 83.53 L497.60 81.33" stroke="#c0603c" stroke-width="1.8" fill="none" stroke-linejoin="round"/>
<path d="M320.5 174 L320.9 187" stroke="#3450d8" stroke-width="1.6" opacity="0.55" fill="none"/>
<line x1="47.5" y1="29.5" x2="230.5" y2="29.5" stroke="#111" stroke-width="1.1"/>
<line x1="47.5" y1="212.3" x2="230.5" y2="212.3" stroke="#111" stroke-width="1.1"/>
<line x1="47.5" y1="29.0" x2="47.5" y2="212.8" stroke="#b08860" stroke-width="1.1"/>
<line x1="230.5" y1="29.0" x2="230.5" y2="212.8" stroke="#5060c8" stroke-width="1.1"/>
<text x="47.50" y="228" font-size="14" text-anchor="middle" fill="#111" stroke="#111" stroke-width="0.25">200</text>
<line x1="94.73" y1="212.3" x2="94.73" y2="208.8" stroke="#111" stroke-width="1"/>
<text x="94.73" y="228" font-size="14" text-anchor="middle" fill="#111" stroke="#111" stroke-width="0.25">1000</text>
<line x1="139.00" y1="212.3" x2="139.00" y2="208.8" stroke="#111" stroke-width="1"/>
<text x="139.00" y="228" font-size="14" text-anchor="middle" fill="#111" stroke="#111" stroke-width="0.25">1750</text>
<line x1="183.27" y1="212.3" x2="183.27" y2="208.8" stroke="#111" stroke-width="1"/>
<text x="183.27" y="228" font-size="14" text-anchor="middle" fill="#111" stroke="#111" stroke-width="0.25">2500</text>
<text x="230.50" y="228" font-size="14" text-anchor="middle" fill="#111" stroke="#111" stroke-width="0.25">3300</text>
<text x="43.0" y="217.10" font-size="14" text-anchor="end" fill="#b47454" stroke="#b47454" stroke-width="0.25">1.0</text>
<line x1="47.5" y1="181.83" x2="50.5" y2="181.83" stroke="#b08860" stroke-width="1"/>
<text x="43.0" y="186.63" font-size="14" text-anchor="end" fill="#b47454" stroke="#b47454" stroke-width="0.25">1.5</text>
<line x1="47.5" y1="151.37" x2="50.5" y2="151.37" stroke="#b08860" stroke-width="1"/>
<text x="43.0" y="156.17" font-size="14" text-anchor="end" fill="#b47454" stroke="#b47454" stroke-width="0.25">2.0</text>
<line x1="47.5" y1="120.90" x2="50.5" y2="120.90" stroke="#b08860" stroke-width="1"/>
<text x="43.0" y="125.70" font-size="14" text-anchor="end" fill="#b47454" stroke="#b47454" stroke-width="0.25">2.5</text>
<line x1="47.5" y1="90.43" x2="50.5" y2="90.43" stroke="#b08860" stroke-width="1"/>
<text x="43.0" y="95.23" font-size="14" text-anchor="end" fill="#b47454" stroke="#b47454" stroke-width="0.25">3.0</text>
<line x1="47.5" y1="59.97" x2="50.5" y2="59.97" stroke="#b08860" stroke-width="1"/>
<text x="43.0" y="64.77" font-size="14" text-anchor="end" fill="#b47454" stroke="#b47454" stroke-width="0.25">3.5</text>
<text x="43.0" y="34.30" font-size="14" text-anchor="end" fill="#b47454" stroke="#b47454" stroke-width="0.25">4.0</text>
<text x="234.5" y="217.10" font-size="14" fill="#4052c4" stroke="#4052c4" stroke-width="0.25">0.0</text>
<line x1="230.5" y1="181.83" x2="226.3" y2="181.83" stroke="#5a60c8" stroke-width="1"/>
<text x="234.5" y="186.63" font-size="14" fill="#4052c4" stroke="#4052c4" stroke-width="0.25">0.5</text>
<line x1="230.5" y1="151.37" x2="226.3" y2="151.37" stroke="#5a60c8" stroke-width="1"/>
<text x="234.5" y="156.17" font-size="14" fill="#4052c4" stroke="#4052c4" stroke-width="0.25">1.0</text>
<line x1="230.5" y1="120.90" x2="226.3" y2="120.90" stroke="#5a60c8" stroke-width="1"/>
<text x="234.5" y="125.70" font-size="14" fill="#4052c4" stroke="#4052c4" stroke-width="0.25">1.5</text>
<line x1="230.5" y1="90.43" x2="226.3" y2="90.43" stroke="#5a60c8" stroke-width="1"/>
<text x="234.5" y="95.23" font-size="14" fill="#4052c4" stroke="#4052c4" stroke-width="0.25">2.0</text>
<line x1="230.5" y1="59.97" x2="226.3" y2="59.97" stroke="#5a60c8" stroke-width="1"/>
<text x="234.5" y="64.77" font-size="14" fill="#4052c4" stroke="#4052c4" stroke-width="0.25">2.5</text>
<text x="234.5" y="34.30" font-size="14" fill="#4052c4" stroke="#4052c4" stroke-width="0.25">3.0</text>
<text transform="translate(19.8,120.2) rotate(-90)" font-size="15.6" text-anchor="middle" fill="#b47454" stroke="#b47454" stroke-width="0.25">Refractive index, <tspan font-style="italic">n</tspan></text>
<text transform="translate(268.6,118.4) rotate(-90)" font-size="15.799999999999999" text-anchor="middle" fill="#4052c4" stroke="#4052c4" stroke-width="0.25">Extinction coefficient, <tspan font-style="italic">k</tspan></text>
<text x="71.00" y="248.8" font-size="15.7" fill="#111" stroke="#111" stroke-width="0.25">Wavelength,</text>
<text x="175.60" y="248.8" font-size="15.7" fill="#111" stroke="#111" stroke-width="0.25">(nm)</text>
<g transform="translate(0.00,0)" fill="none" stroke="#111" stroke-linecap="round"><path d="M166.6 238.9 Q167.7 237.5 168.5 239.0 L168.9 246.3 Q169.2 248.6 170.7 247.6" stroke-width="1.1"/><path d="M168.6 241.6 L162.9 248.4" stroke-width="1.4"/></g>
<text x="10.2" y="21.2" font-size="17" font-weight="bold" fill="#111" stroke="#111" stroke-width="0.25">a</text>
<text x="125.0" y="21.7" font-size="16" letter-spacing="0.5" fill="#111" stroke="#111" stroke-width="0.25">PtS</text>
<text x="152.5" y="27.9" font-size="9.6" fill="#111" stroke="#111" stroke-width="0.25">2</text>
<line x1="317" y1="29.5" x2="499.3" y2="29.5" stroke="#111" stroke-width="1.1"/>
<line x1="317" y1="212.3" x2="499.3" y2="212.3" stroke="#111" stroke-width="1.1"/>
<line x1="317" y1="29.0" x2="317" y2="212.8" stroke="#b08860" stroke-width="1.1"/>
<line x1="499.3" y1="29.0" x2="499.3" y2="212.8" stroke="#5060c8" stroke-width="1.1"/>
<text x="317.00" y="228" font-size="14" text-anchor="middle" fill="#111" stroke="#111" stroke-width="0.25">200</text>
<line x1="364.05" y1="212.3" x2="364.05" y2="208.8" stroke="#111" stroke-width="1"/>
<text x="364.05" y="228" font-size="14" text-anchor="middle" fill="#111" stroke="#111" stroke-width="0.25">1000</text>
<line x1="408.15" y1="212.3" x2="408.15" y2="208.8" stroke="#111" stroke-width="1"/>
<text x="408.15" y="228" font-size="14" text-anchor="middle" fill="#111" stroke="#111" stroke-width="0.25">1750</text>
<line x1="452.25" y1="212.3" x2="452.25" y2="208.8" stroke="#111" stroke-width="1"/>
<text x="452.25" y="228" font-size="14" text-anchor="middle" fill="#111" stroke="#111" stroke-width="0.25">2500</text>
<text x="499.30" y="228" font-size="14" text-anchor="middle" fill="#111" stroke="#111" stroke-width="0.25">3300</text>
<text x="312.5" y="217.10" font-size="14" text-anchor="end" fill="#b47454" stroke="#b47454" stroke-width="0.25">1.0</text>
<line x1="317" y1="186.19" x2="320" y2="186.19" stroke="#b08860" stroke-width="1"/>
<text x="312.5" y="190.99" font-size="14" text-anchor="end" fill="#b47454" stroke="#b47454" stroke-width="0.25">1.5</text>
<line x1="317" y1="160.07" x2="320" y2="160.07" stroke="#b08860" stroke-width="1"/>
<text x="312.5" y="164.87" font-size="14" text-anchor="end" fill="#b47454" stroke="#b47454" stroke-width="0.25">2.0</text>
<line x1="317" y1="133.96" x2="320" y2="133.96" stroke="#b08860" stroke-width="1"/>
<text x="312.5" y="138.76" font-size="14" text-anchor="end" fill="#b47454" stroke="#b47454" stroke-width="0.25">2.5</text>
<line x1="317" y1="107.84" x2="320" y2="107.84" stroke="#b08860" stroke-width="1"/>
<text x="312.5" y="112.64" font-size="14" text-anchor="end" fill="#b47454" stroke="#b47454" stroke-width="0.25">3.0</text>
<line x1="317" y1="81.73" x2="320" y2="81.73" stroke="#b08860" stroke-width="1"/>
<text x="312.5" y="86.53" font-size="14" text-anchor="end" fill="#b47454" stroke="#b47454" stroke-width="0.25">3.5</text>
<line x1="317" y1="55.61" x2="320" y2="55.61" stroke="#b08860" stroke-width="1"/>
<text x="312.5" y="60.41" font-size="14" text-anchor="end" fill="#b47454" stroke="#b47454" stroke-width="0.25">4.0</text>
<text x="312.5" y="34.30" font-size="14" text-anchor="end" fill="#b47454" stroke="#b47454" stroke-width="0.25">4.5</text>
<text x="503.3" y="217.10" font-size="14" fill="#4052c4" stroke="#4052c4" stroke-width="0.25">0.0</text>
<line x1="499.3" y1="181.83" x2="495.1" y2="181.83" stroke="#5a60c8" stroke-width="1"/>
<text x="503.3" y="186.63" font-size="14" fill="#4052c4" stroke="#4052c4" stroke-width="0.25">0.5</text>
<line x1="499.3" y1="151.37" x2="495.1" y2="151.37" stroke="#5a60c8" stroke-width="1"/>
<text x="503.3" y="156.17" font-size="14" fill="#4052c4" stroke="#4052c4" stroke-width="0.25">1.0</text>
<line x1="499.3" y1="120.90" x2="495.1" y2="120.90" stroke="#5a60c8" stroke-width="1"/>
<text x="503.3" y="125.70" font-size="14" fill="#4052c4" stroke="#4052c4" stroke-width="0.25">1.5</text>
<line x1="499.3" y1="90.43" x2="495.1" y2="90.43" stroke="#5a60c8" stroke-width="1"/>
<text x="503.3" y="95.23" font-size="14" fill="#4052c4" stroke="#4052c4" stroke-width="0.25">2.0</text>
<line x1="499.3" y1="59.97" x2="495.1" y2="59.97" stroke="#5a60c8" stroke-width="1"/>
<text x="503.3" y="64.77" font-size="14" fill="#4052c4" stroke="#4052c4" stroke-width="0.25">2.5</text>
<text x="503.3" y="34.30" font-size="14" fill="#4052c4" stroke="#4052c4" stroke-width="0.25">3.0</text>
<text transform="translate(289.3,120.2) rotate(-90)" font-size="15.6" text-anchor="middle" fill="#b47454" stroke="#b47454" stroke-width="0.25">Refractive index, <tspan font-style="italic">n</tspan></text>
<text transform="translate(538.1,118.4) rotate(-90)" font-size="15.799999999999999" text-anchor="middle" fill="#4052c4" stroke="#4052c4" stroke-width="0.25">Extinction coefficient, <tspan font-style="italic">k</tspan></text>
<text x="340.15" y="248.8" font-size="15.7" fill="#111" stroke="#111" stroke-width="0.25">Wavelength,</text>
<text x="444.75" y="248.8" font-size="15.7" fill="#111" stroke="#111" stroke-width="0.25">(nm)</text>
<g transform="translate(269.15,0)" fill="none" stroke="#111" stroke-linecap="round"><path d="M166.6 238.9 Q167.7 237.5 168.5 239.0 L168.9 246.3 Q169.2 248.6 170.7 247.6" stroke-width="1.1"/><path d="M168.6 241.6 L162.9 248.4" stroke-width="1.4"/></g>
<text x="279.7" y="21.2" font-size="17" font-weight="bold" fill="#111" stroke="#111" stroke-width="0.25">b</text>
<text x="389.6" y="21.7" font-size="16" letter-spacing="0.5" fill="#111" stroke="#111" stroke-width="0.25">PtSe</text>
<text x="426.2" y="28.3" font-size="9.6" fill="#111" stroke="#111" stroke-width="0.25">2</text>
<rect x="79.70" y="226.00" width="2.91" height="3.20" fill="#fff"/>
<rect x="83.98" y="226.00" width="2.76" height="3.20" fill="#fff"/>
<rect x="123.97" y="226.00" width="2.91" height="3.20" fill="#fff"/>
<rect x="128.25" y="226.00" width="2.76" height="3.20" fill="#fff"/>
<rect x="24.08" y="215.10" width="2.91" height="3.20" fill="#fff"/>
<rect x="28.36" y="215.10" width="2.76" height="3.20" fill="#fff"/>
<rect x="24.08" y="184.63" width="2.91" height="3.20" fill="#fff"/>
<rect x="28.36" y="184.63" width="2.76" height="3.20" fill="#fff"/>
<rect x="235.05" y="154.17" width="2.91" height="3.20" fill="#fff"/>
<rect x="239.33" y="154.17" width="2.76" height="3.20" fill="#fff"/>
<rect x="235.05" y="123.70" width="2.91" height="3.20" fill="#fff"/>
<rect x="239.33" y="123.70" width="2.76" height="3.20" fill="#fff"/>
<rect x="349.02" y="226.00" width="2.91" height="3.20" fill="#fff"/>
<rect x="353.30" y="226.00" width="2.76" height="3.20" fill="#fff"/>
<rect x="393.12" y="226.00" width="2.91" height="3.20" fill="#fff"/>
<rect x="397.40" y="226.00" width="2.76" height="3.20" fill="#fff"/>
<rect x="293.58" y="215.10" width="2.91" height="3.20" fill="#fff"/>
<rect x="297.86" y="215.10" width="2.76" height="3.20" fill="#fff"/>
<rect x="293.58" y="188.99" width="2.91" height="3.20" fill="#fff"/>
<rect x="297.86" y="188.99" width="2.76" height="3.20" fill="#fff"/>
<rect x="503.85" y="154.17" width="2.91" height="3.20" fill="#fff"/>
<rect x="508.13" y="154.17" width="2.76" height="3.20" fill="#fff"/>
<rect x="503.85" y="123.70" width="2.91" height="3.20" fill="#fff"/>
<rect x="508.13" y="123.70" width="2.76" height="3.20" fill="#fff"/>
</svg>
</body></html>
